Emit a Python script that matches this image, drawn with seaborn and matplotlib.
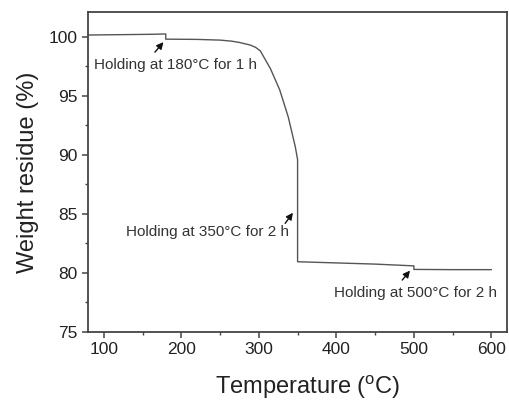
import seaborn as sns
import matplotlib.pyplot as plt
import pandas as pd
from matplotlib.ticker import MultipleLocator

sns.set_style("ticks")
plt.rcParams['font.family'] = ['Liberation Sans', 'DejaVu Sans']
plt.rcParams['mathtext.fontset'] = 'custom'
plt.rcParams['mathtext.rm'] = 'Liberation Sans'

# TGA curve
temperature = [80, 120, 160, 180, 180, 220, 250, 265, 275, 289, 296, 302,
               315, 327, 338, 347, 350, 350, 400, 450, 500, 500, 550, 600]
weight = [100.15, 100.18, 100.21, 100.24, 99.8, 99.78, 99.72, 99.63, 99.52,
          99.3, 99.1, 98.8, 97.3, 95.5, 93.2, 90.7, 89.6, 80.95, 80.85,
          80.75, 80.6, 80.3, 80.28, 80.28]

# annotations: text, text centre, arrow tail, arrow tip (data coords)
note_text = ["Holding at 180\u00b0C for 1 h",
             "Holding at 350\u00b0C for 2 h",
             "Holding at 500\u00b0C for 2 h"]
note_pos = [(192, 97.6), (234, 83.5), (502, 78.3)]
arrow_tail = [(166, 98.7), (334, 84.2), (485, 79.4)]
arrow_tip = [(177, 99.55), (344, 85.1), (495, 80.2)]

df = pd.DataFrame({"Temperature": temperature, "Weight": weight})

fig = plt.figure(figsize=(5.1, 4.0), dpi=100)
ax = fig.add_axes([0.173, 0.17, 0.821, 0.80])

sns.lineplot(data=df, x="Temperature", y="Weight", ax=ax, sort=False,
             estimator=None, color="#555555", linewidth=1.0)

ax.set_xlim(80, 620)
ax.set_ylim(75, 102.1)
ax.xaxis.set_major_locator(MultipleLocator(100))
ax.xaxis.set_minor_locator(MultipleLocator(50))
ax.yaxis.set_major_locator(MultipleLocator(5))
ax.yaxis.set_minor_locator(MultipleLocator(2.5))
ax.tick_params(which="major", direction="out", length=4, width=1.1,
               color="#444444", labelsize=12.5, labelcolor="#222222")
ax.tick_params(which="minor", direction="out", length=2.5, width=1.0,
               color="#444444")
for s in ax.spines.values():
    s.set_color("#444444")
    s.set_linewidth(1.3)

ax.set_xlabel(r"Temperature ($^\mathregular{o}$C)", fontsize=17,
              color="#222222")
ax.xaxis.set_label_coords(0.525, -0.128)
ax.set_ylabel("Weight residue (%)", fontsize=17, color="#222222",
              labelpad=7)

for txt, pos, tail, tip in zip(note_text, note_pos, arrow_tail, arrow_tip):
    ax.text(pos[0], pos[1], txt, ha="center", va="center", fontsize=11,
            color="#333333")
    ax.annotate("", xy=tip, xytext=tail,
                arrowprops=dict(arrowstyle="-|>", color="#111111", lw=1.0,
                                shrinkA=0, shrinkB=0, mutation_scale=10))

fig.savefig("out.png", dpi=100)
